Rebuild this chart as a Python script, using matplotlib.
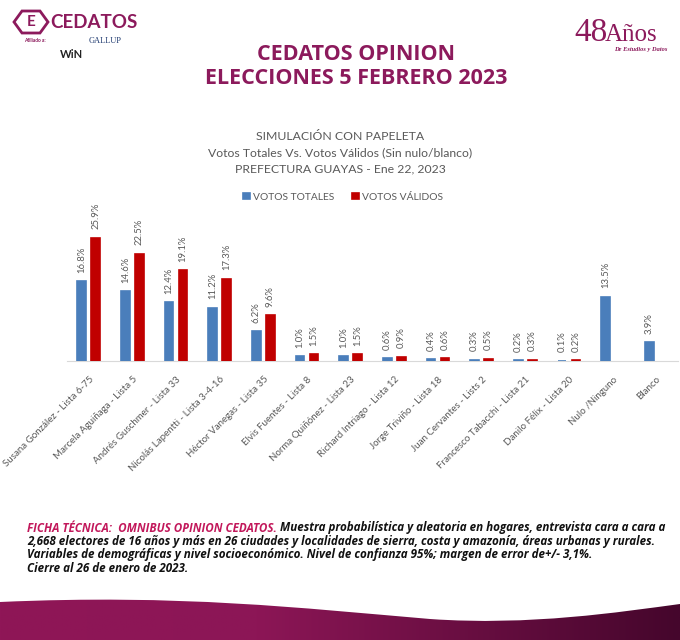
import numpy as np
import matplotlib.pyplot as plt
from matplotlib.path import Path
from matplotlib.patches import PathPatch, Polygon
from matplotlib.colors import LinearSegmentedColormap

candidatos = ["Susana González - Lista 6-75", "Marcela Aguiñaga - Lista 5",
              "Andrés Guschmer - Lista 33", "Nicolás Lapentti - Lista 3-4-16",
              "Héctor Vanegas - Lista 35", "Elvis Fuentes - Lista 8",
              "Norma Quiñónez - Lista 23", "Richard Intriago - Lista 12",
              "Jorge Triviño - Lista 18", "Juan Cervantes - Lists 2",
              "Francesco Tabacchi - Lista 21", "Danilo Félix - Lista 20",
              "Nulo /Ninguno", "Blanco"]
votos_totales = [16.8, 14.6, 12.4, 11.2, 6.2, 1.0, 1.0, 0.6, 0.4, 0.3, 0.2, 0.1, 13.5, 3.9]
votos_validos = [25.9, 22.5, 19.1, 17.3, 9.6, 1.5, 1.5, 0.9, 0.6, 0.5, 0.3, 0.2, None, None]

AZUL = "#4a7ebb"
ROJO = "#c00000"
GRIS = "#595959"
MAGENTA = "#8c1a5c"

W, H = 680, 640
fig = plt.figure(figsize=(6.8, 6.4), dpi=100)
fig.patch.set_facecolor("white")

# capa de fondo en coordenadas de pixel
bg = fig.add_axes([0, 0, 1, 1])
bg.set_xlim(0, W)
bg.set_ylim(H, 0)
bg.axis("off")

# --- grafico de barras ---
ax = fig.add_axes([67 / W, 1 - 361 / H, (678 - 67) / W, (361 - 218) / H])
x = np.arange(len(candidatos))
ancho = 0.2
desp = 0.16

b1 = ax.bar(x - desp, votos_totales, ancho, color=AZUL, edgecolor=AZUL,
            linewidth=1.2, label="VOTOS TOTALES")
val_x = [xi + desp for xi, v in zip(x, votos_validos) if v is not None]
val_y = [v for v in votos_validos if v is not None]
b2 = ax.bar(val_x, val_y, ancho, color=ROJO, edgecolor=ROJO, linewidth=1.2,
            label="VOTOS VÁLIDOS")

for xi, v in zip(x - desp, votos_totales):
    ax.annotate(f"{v:.1f}%", (xi, v), xytext=(0, 6), textcoords="offset points",
                rotation=90, ha="center", va="bottom", fontsize=6.8, color=GRIS,
                family="Lato")
for xi, v in zip(val_x, val_y):
    ax.annotate(f"{v:.1f}%", (xi, v), xytext=(0, 6), textcoords="offset points",
                rotation=90, ha="center", va="bottom", fontsize=6.8, color=GRIS,
                family="Lato")

ax.set_xlim(-0.5, len(candidatos) - 0.5)
ax.set_ylim(0, 30)
for s in ["top", "right", "left"]:
    ax.spines[s].set_visible(False)
ax.spines["bottom"].set_color("#d9d9d9")
ax.spines["bottom"].set_zorder(0)
ax.set_yticks([])
ax.set_xticks(x)
ax.set_xticklabels(candidatos, rotation=45, ha="right", rotation_mode="anchor",
                   fontsize=7.0, color=GRIS, family="Lato")
ax.tick_params(axis="x", length=0, pad=10)
ax.patch.set_alpha(0)

ax.legend(handles=[b1, b2], loc="center", bbox_to_anchor=(343 / W, 1 - 197 / H),
          bbox_transform=fig.transFigure, ncol=2, frameon=False,
          handlelength=0.6, handleheight=0.6, handletextpad=0.3,
          columnspacing=1.8, prop={"family": "Lato", "size": 7.4}, labelcolor=GRIS)

# --- titulos ---
bg.text(356, 54, "CEDATOS OPINION", ha="center", va="center", fontsize=15.5,
        fontweight="bold", color=MAGENTA, family="Open Sans")
bg.text(356, 78, "ELECCIONES 5 FEBRERO 2023", ha="center", va="center", fontsize=15.5,
        fontweight="bold", color=MAGENTA, family="Open Sans")

subtitulos = ["SIMULACIÓN CON PAPELETA",
              "Votos Totales Vs. Votos Válidos (Sin nulo/blanco)",
              "PREFECTURA GUAYAS - Ene 22, 2023"]
for i, s in enumerate(subtitulos):
    bg.text(340, 137 + 16 * i, s, ha="center", va="center", fontsize=8.8,
            color=GRIS, family="Lato")

# --- logos ---
hexa = Polygon([(14, 22), (22, 11), (40, 11), (48, 22), (40, 33), (22, 33)],
               closed=True, fill=False, edgecolor=MAGENTA, lw=2)
bg.add_patch(hexa)
bg.text(31, 22.5, "E", ha="center", va="center", fontsize=11, fontweight="bold",
        color=MAGENTA, family="Lato")
bg.text(50, 22, "CEDATOS", ha="left", va="center", fontsize=13.5, fontweight="bold",
        color=MAGENTA, family="Lato")
bg.text(24, 41, "Afiliado a:", ha="left", va="center", fontsize=3.5,
        fontweight="bold", color=MAGENTA, family="Lato")
bg.text(60, 55, "WiN", ha="left", va="center", fontsize=8, fontweight="bold",
        color="#222222", family="Lato")
bg.text(89, 41, "GALLUP", ha="left", va="center", fontsize=6,
        color="#1f3a70", family="Liberation Serif")

bg.text(574, 33, "48", ha="left", va="center", fontsize=24, color=MAGENTA,
        family="Liberation Serif")
bg.text(605, 35, "Años", ha="left", va="center", fontsize=18, color=MAGENTA,
        family="Liberation Serif")
bg.text(614, 50, "De Estudios y Datos", ha="left", va="center", fontsize=4.6,
        fontweight="bold", style="italic", color=MAGENTA, family="Liberation Serif")

# --- ficha tecnica ---
fs = 8.35
t1 = bg.text(27, 528, "FICHA TÉCNICA:  OMNIBUS OPINION CEDATOS.", ha="left",
             va="center", fontsize=fs, fontweight="bold", style="italic",
             color="#c2185b", family="Open Sans")
bg.annotate(" Muestra probabilística y aleatoria en hogares, entrevista cara a cara a",
            xy=(1, 0.5), xycoords=t1, ha="left", va="center", fontsize=fs,
            fontweight="bold", style="italic", color="#111111", family="Open Sans")
lineas = ["2,668 electores de 16 años y más en 26 ciudades y localidades de sierra, costa y amazonía, áreas urbanas y rurales.",
          "Variables de demográficas y nivel socioeconómico. Nivel de confianza 95%; margen de error de+/- 3,1%.",
          "Cierre al 26 de enero de 2023."]
for i, l in enumerate(lineas):
    bg.text(27, 541.5 + 13.4 * i, l, ha="left", va="center", fontsize=fs,
            fontweight="bold", style="italic", color="#111111", family="Open Sans")

# --- onda inferior ---
verts = [(0, 602), (180, 594), (300, 608), (430, 619),
         (530, 626), (620, 612), (680, 604),
         (680, 640), (0, 640), (0, 602)]
codes = [Path.MOVETO, Path.CURVE4, Path.CURVE4, Path.CURVE4,
         Path.CURVE4, Path.CURVE4, Path.CURVE4,
         Path.LINETO, Path.LINETO, Path.CLOSEPOLY]
onda = PathPatch(Path(verts, codes), facecolor="none", edgecolor="none")
bg.add_patch(onda)
cmap = LinearSegmentedColormap.from_list("onda", [(0, "#8f1657"), (0.38, "#8c1656"),
                                                  (1, "#45062c")])
grad = np.linspace(0, 1, 256).reshape(1, -1)
im = bg.imshow(grad, cmap=cmap, extent=[0, W, 640, 590], aspect="auto", zorder=0)
im.set_clip_path(onda)
bg.set_xlim(0, W)
bg.set_ylim(H, 0)

fig.savefig("out.png", dpi=100)
